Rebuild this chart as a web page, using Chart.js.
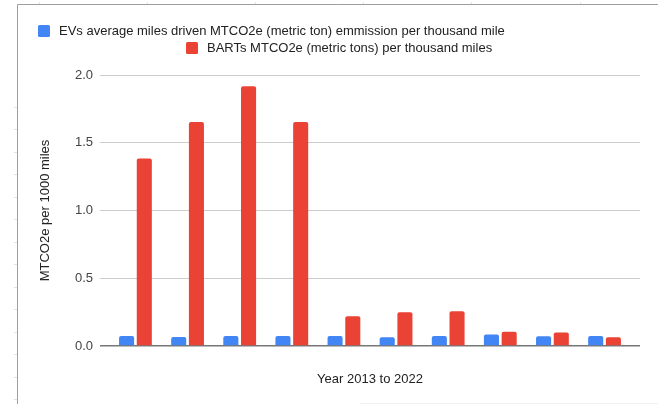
<!DOCTYPE html>
<html>
<head>
<meta charset="utf-8">
<script src="https://cdn.jsdelivr.net/npm/chart.js@4/dist/chart.umd.min.js"></script>
<style>
  html, body { margin: 0; padding: 0; background: #fff; }
  #wrap { width: 658px; height: 404px; position: relative; }
</style>
</head>
<body>
<div id="wrap"><canvas id="c" width="658" height="404"></canvas></div>
<script>
// Years covered, 2013 through 2022
const years = [2013, 2014, 2015, 2016, 2017, 2018, 2019, 2020, 2021, 2022];

// MTCO2e per thousand miles
const evEmissions   = [0.074, 0.066, 0.074, 0.074, 0.074, 0.064, 0.074, 0.084, 0.072, 0.074];
const bartEmissions = [1.383, 1.653, 1.917, 1.653, 0.219, 0.249, 0.256, 0.106, 0.099, 0.064];

const seriesNames = [
  'EVs average miles driven MTCO2e (metric ton) emmission per thousand mile',
  'BARTs MTCO2e (metric tons) per thousand miles'
];
const seriesColors = ['#4285F4', '#EA4335'];

const yTicks = [0, 0.5, 1.0, 1.5, 2.0];
const yTitle = 'MTCO2e per 1000 miles';
const xTitle = 'Year 2013 to 2022';

const FONT = '"Liberation Sans", Arial, sans-serif';

const toPoints = vals => vals.map((v, i) => ({ x: i, y: v }));

// Sheet-style frame around the chart plus the two-line legend
const framePlugin = {
  id: 'frame',
  afterDraw(chart) {
    const ctx = chart.ctx;
    ctx.save();
    ctx.strokeStyle = '#9e9e9e';
    ctx.lineWidth = 1;
    ctx.beginPath();
    ctx.moveTo(17.5, 404);
    ctx.lineTo(17.5, 4.5);
    ctx.lineTo(658, 4.5);
    ctx.stroke();
    ctx.strokeStyle = '#e2e2e2';
    ctx.beginPath();
    for (let y = 106.5; y < 404; y += 22.5) {
      ctx.moveTo(14, Math.round(y) + 0.5);
      ctx.lineTo(17, Math.round(y) + 0.5);
    }
    for (let x = 39; x < 658; x += 108.1) {
      ctx.moveTo(Math.round(x) + 0.5, 2);
      ctx.lineTo(Math.round(x) + 0.5, 4);
    }
    ctx.stroke();
    ctx.strokeStyle = '#f0f0f0';
    ctx.beginPath();
    ctx.moveTo(360, 403.5);
    ctx.lineTo(658, 403.5);
    ctx.stroke();

    // legend
    const rows = [
      { x: 38, y: 25 },
      { x: 186, y: 42 }
    ];
    ctx.font = '13px ' + FONT;
    ctx.textBaseline = 'middle';
    ctx.textAlign = 'left';
    rows.forEach((r, i) => {
      ctx.fillStyle = seriesColors[i];
      ctx.beginPath();
      ctx.roundRect(r.x, r.y, 12, 12, 1.5);
      ctx.fill();
      ctx.fillStyle = '#222';
      ctx.fillText(seriesNames[i], r.x + 21, r.y + 6.5);
    });
    ctx.restore();
  }
};

new Chart(document.getElementById('c'), {
  type: 'bar',
  data: {
    datasets: [
      {
        label: seriesNames[0],
        data: toPoints(evEmissions),
        backgroundColor: seriesColors[0],
        borderRadius: { topLeft: 2, topRight: 2 },
        borderSkipped: 'bottom',
        categoryPercentage: 0.68,
        barPercentage: 0.85
      },
      {
        label: seriesNames[1],
        data: toPoints(bartEmissions),
        backgroundColor: seriesColors[1],
        borderRadius: { topLeft: 2, topRight: 2 },
        borderSkipped: 'bottom',
        categoryPercentage: 0.68,
        barPercentage: 0.85
      }
    ]
  },
  options: {
    responsive: false,
    animation: false,
    devicePixelRatio: 1,
    layout: { padding: { left: 0, right: 18, top: 75, bottom: 0 } },
    plugins: {
      legend: { display: false },
      tooltip: { enabled: false }
    },
    scales: {
      x: {
        type: 'linear',
        min: -0.68,
        max: years.length - 1 + 0.68,
        offset: false,
        ticks: { display: false },
        grid: { display: false },
        border: { display: false },
        title: {
          display: true,
          text: xTitle,
          color: '#222',
          font: { family: FONT, size: 13 },
          padding: { top: 0, bottom: 17 }
        },
        afterFit(scale) { scale.height = 58; }
      },
      y: {
        min: 0,
        max: 2,
        afterBuildTicks(scale) { scale.ticks = yTicks.map(v => ({ value: v })); },
        ticks: {
          color: '#444',
          font: { family: FONT, size: 13 },
          padding: 7,
          callback: v => v.toFixed(1)
        },
        grid: {
          drawTicks: false,
          color: ctx => ctx.tick && ctx.tick.value === 0 ? '#777' : '#ccc',
          lineWidth: ctx => ctx.tick && ctx.tick.value === 0 ? 1.5 : 1
        },
        border: { display: false },
        title: {
          display: true,
          text: yTitle,
          color: '#222',
          font: { family: FONT, size: 13 },
          padding: { top: 38, bottom: 0 }
        },
        afterFit(scale) { scale.width = 100; }
      }
    }
  },
  plugins: [framePlugin]
});
</script>
</body>
</html>
